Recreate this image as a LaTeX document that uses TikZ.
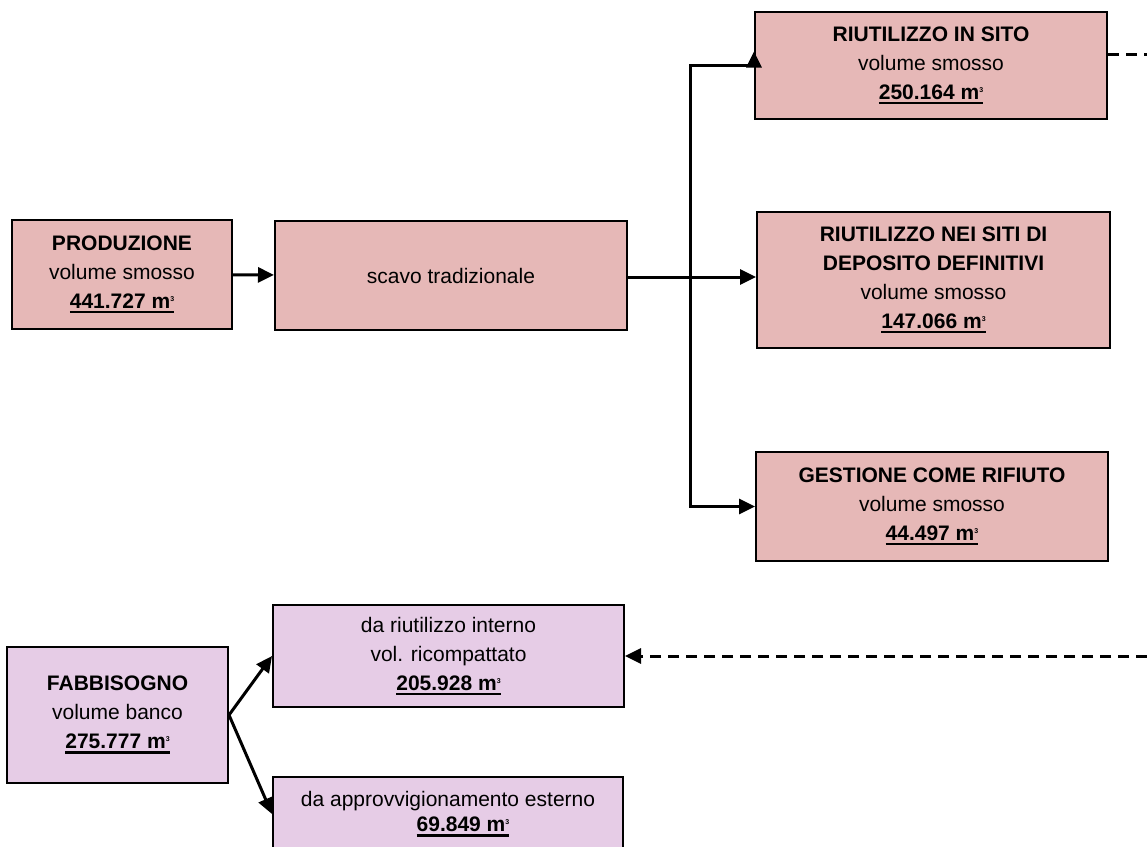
\documentclass[tikz,border=0pt]{standalone}
\usepackage{fontspec}
\setmainfont{Liberation Sans}
\usetikzlibrary{arrows.meta,calc}

\definecolor{prodfill}{HTML}{E6B8B7}
\definecolor{needfill}{HTML}{E6CCE6}

% bold underlined volume with a small raised 3
\newcommand{\volbox}[1]{\setbox0\hbox{\textbf{#1 m}\raisebox{7pt}{\fontsize{7}{7}\selectfont\textbf{3}}}%
  \leavevmode\rlap{\rule[-5pt]{\wd0}{2.4pt}}\box0}

\tikzset{
  box/.style={draw=black, line width=2pt, inner sep=0pt, align=center,
    font=\fontsize{21}{29}\selectfont},
  prodbox/.style={box, fill=prodfill},
  needbox/.style={box, fill=needfill},
  flow/.style={line width=3pt, -{Triangle[length=16pt,width=15pt]}},
  plain/.style={line width=3pt},
  link/.style={line width=3pt, dash pattern=on 11pt off 7pt}
}

\begin{document}
\begin{tikzpicture}[x=1pt,y=-1pt]
  \useasboundingbox (0,0) rectangle (1147,846);
  \node[prodbox, minimum width=220pt, minimum height=109pt] (prod) at (122,274.5)
    {\textbf{PRODUZIONE}\\volume smosso\\\volbox{441.727}};
  \node[prodbox, minimum width=352pt, minimum height=109pt] (scavo) at (451,275.5)
    {scavo tradizionale};
  \node[prodbox, minimum width=352pt, minimum height=107pt] (sito) at (931,65.5)
    {\textbf{RIUTILIZZO IN SITO}\\volume smosso\\\volbox{250.164}};
  \node[prodbox, minimum width=353pt, minimum height=136pt] (siti) at (933.5,280)
    {\textbf{RIUTILIZZO NEI SITI DI}\\\textbf{DEPOSITO DEFINITIVI}\\volume smosso\\\volbox{147.066}};
  \node[prodbox, minimum width=352pt, minimum height=109pt] (rifiuto) at (932,506.5)
    {\textbf{GESTIONE COME RIFIUTO}\\volume smosso\\\volbox{44.497}};
  \node[needbox, minimum width=221pt, minimum height=136pt] (fabb) at (117.5,715)
    {\textbf{FABBISOGNO}\\volume banco\\\volbox{275.777}};
  \node[needbox, minimum width=351pt, minimum height=102pt] (interno) at (448.5,656)
    {da riutilizzo interno\\vol. ricompattato\\\volbox{205.928}};
  \node[needbox, minimum width=350pt, minimum height=74pt,
    font=\fontsize{21}{25}\selectfont] (esterno) at (448,814)
    {da approvvigionamento esterno\\\hspace*{30pt}\volbox{69.849}};

  \coordinate (split) at (690,277);
  \coordinate (outA) at (1147,54);
  \coordinate (outB) at (1147,656);

  \draw[flow] (prod) -- (scavo);
  \draw[plain] (scavo.east |- split) -- (split);
  \draw[flow] (split) -- (siti.west |- split);
  \draw[flow] (split) |- (sito.west) -- ++(0,-14);
  \draw[flow] (split) |- (rifiuto.west);
  \draw[link] (sito.east |- outA) -- (outA);
  \draw[link, -{Triangle[length=16pt,width=15pt]}] (outB) -- (interno.east);
  \draw[flow] (fabb.east) -- (interno.west);
  \draw[flow] (fabb.east) -- (esterno.west);
\end{tikzpicture}
\end{document}
